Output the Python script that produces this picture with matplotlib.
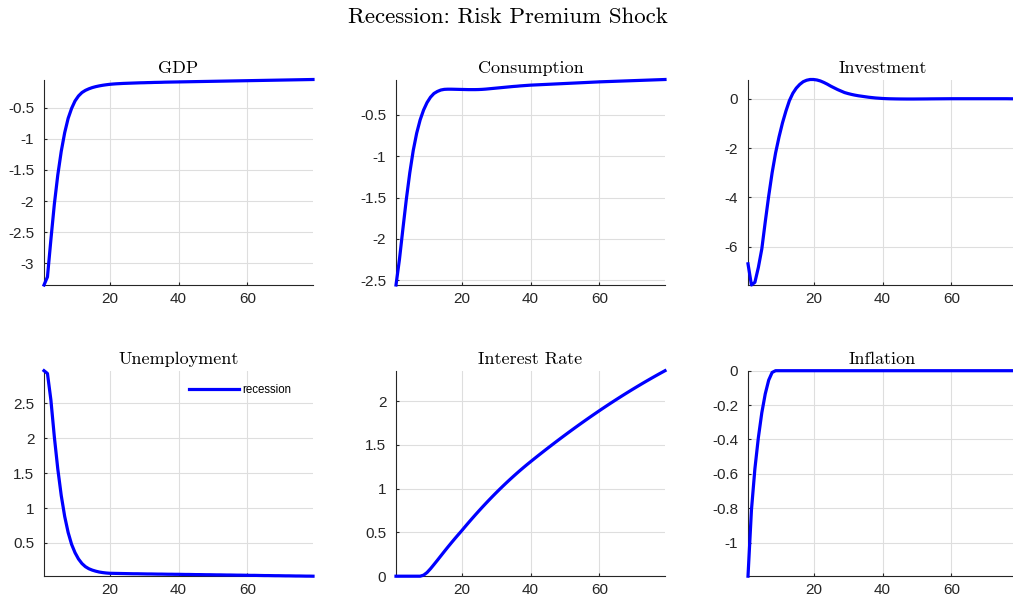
import matplotlib
matplotlib.use("Agg")
import matplotlib.pyplot as plt
from matplotlib.ticker import MultipleLocator, FuncFormatter

# ---------------- data ----------------
periods = list(range(1, 80))

gdp = [-3.35, -3.22, -2.62, -2.05, -1.58, -1.20, -0.90, -0.67, -0.51, -0.39,
       -0.31, -0.255, -0.22, -0.195, -0.175, -0.16, -0.148, -0.138, -0.13, -0.123,
       -0.118, -0.114, -0.111, -0.108, -0.106, -0.104, -0.102, -0.100, -0.098, -0.097,
       -0.095, -0.094, -0.092, -0.091, -0.090, -0.088, -0.087, -0.086, -0.085, -0.084,
       -0.083, -0.082, -0.081, -0.080, -0.079, -0.078, -0.077, -0.076, -0.075, -0.074,
       -0.073, -0.072, -0.071, -0.070, -0.069, -0.068, -0.067, -0.066, -0.065, -0.064,
       -0.063, -0.062, -0.061, -0.060, -0.059, -0.058, -0.057, -0.056, -0.055, -0.054,
       -0.053, -0.052, -0.051, -0.050, -0.049, -0.048, -0.047, -0.046, -0.045]

consumption = [-2.56, -2.25, -1.88, -1.52, -1.20, -0.93, -0.72, -0.56, -0.44, -0.35,
               -0.285, -0.24, -0.215, -0.198, -0.19, -0.188, -0.188, -0.189, -0.19, -0.191,
               -0.192, -0.193, -0.193, -0.193, -0.192, -0.190, -0.187, -0.183, -0.179, -0.175,
               -0.171, -0.167, -0.163, -0.159, -0.155, -0.152, -0.148, -0.145, -0.142, -0.139,
               -0.137, -0.135, -0.133, -0.131, -0.129, -0.127, -0.125, -0.123, -0.121, -0.119,
               -0.117, -0.115, -0.113, -0.111, -0.109, -0.107, -0.105, -0.103, -0.101, -0.099,
               -0.0975, -0.096, -0.0945, -0.093, -0.0915, -0.090, -0.0885, -0.087, -0.0855, -0.084,
               -0.0825, -0.081, -0.0795, -0.078, -0.0765, -0.075, -0.0735, -0.072, -0.0705]

investment = [-6.70, -7.56, -7.45, -6.85, -6.10, -5.00, -3.95, -3.00, -2.20, -1.55,
              -0.98, -0.50, -0.08, 0.22, 0.43, 0.58, 0.69, 0.75, 0.78, 0.78,
              0.76, 0.72, 0.66, 0.59, 0.51, 0.44, 0.37, 0.31, 0.25, 0.21,
              0.175, 0.145, 0.12, 0.10, 0.08, 0.06, 0.045, 0.03, 0.02, 0.01,
              0.003, -0.002, -0.005, -0.008, -0.010, -0.011, -0.012, -0.012, -0.012, -0.011,
              -0.010, -0.009, -0.008, -0.006, -0.005, -0.004, -0.003, -0.002, -0.001, 0.0,
              0.0, 0.0, 0.0, 0.0, 0.0, 0.0, 0.0, 0.0, 0.0, 0.0,
              0.0, 0.0, 0.0, 0.0, 0.0, 0.0, -0.002, -0.004, -0.005]

unemployment = [2.97, 2.93, 2.55, 2.02, 1.56, 1.18, 0.88, 0.65, 0.48, 0.36,
                0.27, 0.205, 0.16, 0.13, 0.11, 0.095, 0.083, 0.075, 0.069, 0.065,
                0.064, 0.063, 0.062, 0.061, 0.060, 0.059, 0.058, 0.058, 0.057, 0.056,
                0.055, 0.055, 0.054, 0.053, 0.053, 0.052, 0.051, 0.051, 0.050, 0.050,
                0.049, 0.048, 0.048, 0.047, 0.046, 0.046, 0.045, 0.044, 0.044, 0.043,
                0.042, 0.042, 0.041, 0.040, 0.040, 0.039, 0.038, 0.038, 0.037, 0.036,
                0.035, 0.035, 0.034, 0.033, 0.032, 0.032, 0.031, 0.030, 0.030, 0.029,
                0.028, 0.028, 0.027, 0.026, 0.026, 0.025, 0.024, 0.024, 0.023]

interest_rate = [0.0, 0.0, 0.0, 0.0, 0.0, 0.0, 0.0, 0.0, 0.012, 0.042,
                 0.085, 0.133, 0.182, 0.232, 0.282, 0.331, 0.379, 0.426, 0.472, 0.517,
                 0.564, 0.6102, 0.6556, 0.7002, 0.744, 0.7871, 0.8294, 0.8709, 0.9116, 0.9515,
                 0.9906, 1.0289, 1.0664, 1.1031, 1.139, 1.1742, 1.2086, 1.2422, 1.275, 1.307,
                 1.3386, 1.3700, 1.4011, 1.4319, 1.4625, 1.4928, 1.5229, 1.5527, 1.5823, 1.6116,
                 1.6407, 1.6695, 1.6981, 1.7264, 1.7545, 1.7823, 1.8099, 1.8372, 1.8642, 1.8910,
                 1.9175, 1.9437, 1.9697, 1.9953, 2.0207, 2.0458, 2.0707, 2.0952, 2.1195, 2.1435,
                 2.1672, 2.1907, 2.2139, 2.2367, 2.2594, 2.2817, 2.3037, 2.3255, 2.347]

inflation = [-1.195, -0.81, -0.57, -0.39, -0.245, -0.135, -0.055, -0.01, 0.0, 0.0,
             0.0, 0.0, 0.0, 0.0, 0.0, 0.0, 0.0, 0.0, 0.0, 0.0,
             0.0, 0.0, 0.0, 0.0, 0.0, 0.0, 0.0, 0.0, 0.0, 0.0,
             0.0, 0.0, 0.0, 0.0, 0.0, 0.0, 0.0, 0.0, 0.0, 0.0,
             0.0, 0.0, 0.0, 0.0, 0.0, 0.0, 0.0, 0.0, 0.0, 0.0,
             0.0, 0.0, 0.0, 0.0, 0.0, 0.0, 0.0, 0.0, 0.0, 0.0,
             0.0, 0.0, 0.0, 0.0, 0.0, 0.0, 0.0, 0.0, 0.0, 0.0,
             0.0, 0.0, 0.0, 0.0, 0.0, 0.0, 0.0, 0.0, 0.0]

titles = ["GDP", "Consumption", "Investment", "Unemployment", "Interest Rate", "Inflation"]
series = [gdp, consumption, investment, unemployment, interest_rate, inflation]
ysteps = [0.5, 0.5, 2, 0.5, 0.5, 0.2]
suptitle = "Recession: Risk Premium Shock"
legend_label = "recession"

# ---------------- style ----------------
plt.rcParams['font.family'] = ['Liberation Sans', 'DejaVu Sans']
plt.rcParams['axes.unicode_minus'] = False

W, H = 1013, 601
fig = plt.figure(figsize=(W / 100, H / 100), dpi=100)

lefts = [44, 396, 748]
tops = [79.5, 370.7]
aw, ah = 269, 205.5
dark = '#262626'

fmt = FuncFormatter(lambda v, p: ('%g' % round(v, 6)))

for i, (ttl, data, ys) in enumerate(zip(titles, series, ysteps)):
    r, c = divmod(i, 3)
    x0 = lefts[c] / W
    y0 = 1 - (tops[r] + ah) / H
    ax = fig.add_axes([x0, y0, aw / W, ah / H])
    ax.plot(periods, data, color=(0, 0, 1), lw=2.3, clip_on=False, zorder=3,
            label=legend_label)
    ax.set_xlim(1, 79)
    ax.set_ylim(min(data), max(data))
    ax.xaxis.set_major_locator(MultipleLocator(20))
    ax.yaxis.set_major_locator(MultipleLocator(ys))
    ax.yaxis.set_major_formatter(fmt)
    ax.grid(True, color='#dedede', lw=0.8)
    ax.set_axisbelow(True)
    for s in ['top', 'right']:
        ax.spines[s].set_visible(False)
    for s in ['left', 'bottom']:
        ax.spines[s].set_color(dark)
        ax.spines[s].set_linewidth(0.8)
    ax.tick_params(direction='in', length=2.5, width=0.8, color=dark,
                   labelcolor=dark, labelsize=11)
    ax.tick_params(axis='y', pad=7)
    ax.tick_params(axis='x', pad=5)
    ax.set_title(ttl, fontfamily='cmr10', fontsize=13, pad=5, color='black')
    if ttl == "Unemployment":
        ax.legend(loc='center left', bbox_to_anchor=(0.539, 0.906), frameon=False,
                  fontsize=8.3, handlelength=4.3, handletextpad=0.35,
                  borderpad=0, borderaxespad=0)

fig.text(0.5015, 1 - 17 / H, suptitle, ha='center', va='center',
         fontfamily='cmr10', fontsize=16.5)

fig.savefig('out.png', dpi=100)
